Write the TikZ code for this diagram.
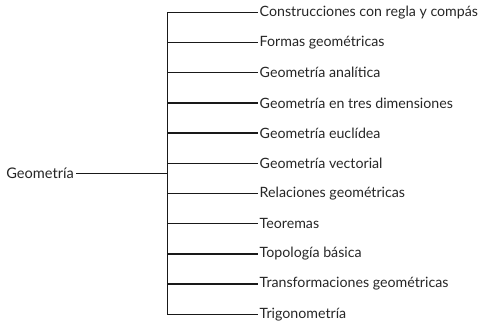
\documentclass[tikz,border=0pt]{standalone}
\usepackage{fontspec}
\setmainfont{Lato}
\begin{document}
\begin{tikzpicture}[x=1pt,y=-1pt,
  leaf/.style={anchor=west,inner sep=0pt,font=\fontsize{14.2}{16}\selectfont,text=black!85},
  rootlbl/.style={anchor=east,inner sep=0pt,font=\fontsize{14.6}{16}\selectfont,text=black!85},
  conn/.style={line width=1.3pt,black!90}]
\useasboundingbox (0,0) rectangle (486,329);
\node[rootlbl] (root) at (74,173.3) {Geometría};
\coordinate (rj) at (167.3,173.3);
\coordinate (top) at (167.3,12.3);
\coordinate (bot) at (167.3,314.3);
\foreach \t [count=\i from 0] in {Construcciones con regla y compás,Formas geométricas,Geometría analítica,Geometría en tres dimensiones,Geometría euclídea,Geometría vectorial,Relaciones geométricas,Teoremas,Topología básica,Transformaciones geométricas,Trigonometría}{
  \node[leaf] (c\i) at (259.5,{12.3+30.2*\i}) {\t};
  \coordinate (j\i) at (167.3,{12.3+30.2*\i});
  \draw[conn] (j\i) -- ([xshift=-1.5pt]c\i.west);
}
\draw[conn] ([xshift=2pt]root.east) -- (rj);
\draw[conn] (top) -- (bot);
\end{tikzpicture}
\end{document}
